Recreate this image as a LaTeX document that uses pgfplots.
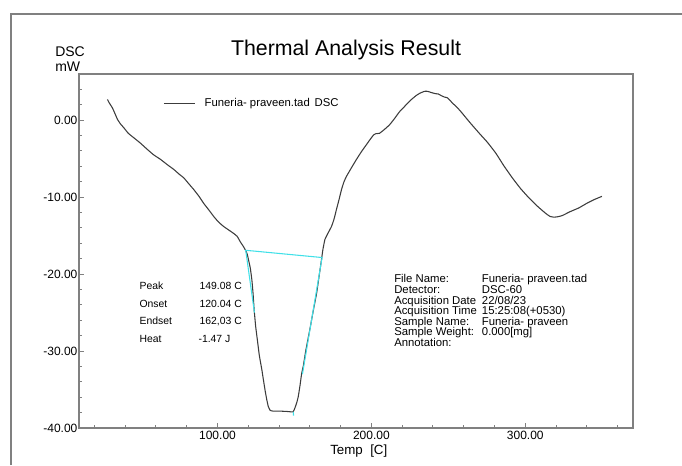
\documentclass[border=0pt]{standalone}
\usepackage{fontspec}
\setmainfont{Liberation Sans}
\usepackage{pgfplots}
\pgfplotsset{compat=1.18}
\definecolor{axgray}{RGB}{128,128,128}
\definecolor{curvegray}{RGB}{60,60,60}
\definecolor{cyanline}{RGB}{64,224,232}
\begin{document}
\begin{tikzpicture}
\useasboundingbox (0,0) rectangle (511.5pt,348.75pt);
\begin{axis}[
  at={(59.25pt,27.75pt)}, anchor=south west,
  scale only axis, width=415.5pt, height=265.5pt,
  xmin=10, xmax=370, ymin=-40, ymax=6,
  xtick={100,200,300},
  minor xtick={20,40,60,80,120,140,160,180,220,240,260,280,320,340,360},
  ytick={-40,-30,-20,-10,0},
  minor ytick={-38,-36,-34,-32,-28,-26,-24,-22,-18,-16,-14,-12,-8,-6,-4,-2,2,4},
  xtick pos=bottom, ytick pos=left,
  tick align=inside,
  major tick length=4pt, minor tick length=2pt,
  axis line style={draw=axgray, line width=1.1pt},
  every tick/.style={axgray, line width=0.8pt},
  /pgf/number format/assume math mode=true,
  xticklabel={\pgfmathprintnumber[fixed,fixed zerofill,precision=2]{\tick}},
  yticklabel={\pgfmathprintnumber[fixed,fixed zerofill,precision=2]{\tick}},
  ticklabel style={font=\fontsize{9}{10}\selectfont, text=black},
  yticklabel style={inner sep=1pt},
  xticklabel style={inner sep=1.8pt},
  legend style={draw=none, fill=none, at={(0.1516,0.918)}, anchor=west,
    inner sep=0pt, font=\fontsize{8.5}{10}\selectfont,
    /tikz/every odd column/.style={column sep=5pt}},
  legend image code/.code={\draw[#1] (0pt,0pt) -- (23.25pt,0pt);},
]
\addplot[curvegray, line width=0.8pt, smooth, tension=0.25] coordinates {
(28.5,2.7) (29.5,2.3) (31.7,1.6) (33.5,0.8) (35.0,0.1) (37.0,-0.5) (39.2,-1.0)
(42.0,-1.7) (45.7,-2.3) (50.0,-3.0) (54.4,-3.8) (58.5,-4.5) (63.0,-5.1)
(67.5,-5.8) (71.6,-6.4) (75.0,-7.0) (78.1,-7.5) (81.5,-8.3) (84.5,-9.0)
(88.0,-9.9) (91.0,-10.8) (94.5,-11.7) (97.5,-12.5) (100.5,-13.2) (103.9,-13.8)
(107.5,-14.3) (110.4,-14.7) (112.8,-15.1) (114.8,-15.8) (116.8,-16.4)
(118.2,-16.9) (119.3,-17.4) (120.1,-18.1) (121.3,-19.2) (122.3,-20.7)
(123.1,-22.5) (123.8,-24.6) (124.8,-26.8) (126.0,-28.7) (127.2,-30.6)
(128.8,-32.4) (129.8,-33.7) (131.0,-35.2) (132.0,-36.3) (133.0,-37.2)
(134.2,-37.7) (136.0,-37.8) (140.0,-37.8) (145.0,-37.85) (149.1,-37.9)
(150.3,-37.4) (151.5,-36.7) (152.5,-35.9) (153.6,-34.5) (154.7,-32.9)
(155.7,-32.0) (157.5,-29.8) (160.0,-27.2) (162.2,-24.8) (164.4,-22.5)
(166.0,-20.3) (167.6,-18.1) (168.5,-16.8) (169.8,-15.5) (171.5,-14.8)
(174.1,-13.8) (175.8,-12.8) (177.3,-11.6) (179.0,-10.3) (180.6,-9.0)
(182.2,-8.0) (183.8,-7.3) (187.0,-6.2) (190.3,-5.1) (193.5,-4.1) (196.7,-3.2)
(199.2,-2.5) (201.5,-1.9) (203.0,-1.75) (205.3,-1.7) (208.5,-1.2) (211.8,-0.6)
(215.0,0.2) (218.3,1.1) (222.6,2.0) (225.5,2.6) (229.1,3.2) (231.5,3.5)
(234.5,3.75) (236.5,3.75) (238.8,3.6) (241.5,3.45) (243.5,3.4) (245.3,3.2)
(247.5,3.0) (249.5,2.9) (252.8,2.2) (255.5,1.7) (258.2,1.1) (264.0,-0.3)
(270.1,-1.7) (275.5,-2.9) (280.9,-4.3) (286.0,-5.9) (291.6,-7.5) (297.0,-8.9)
(302.4,-10.1) (308.0,-11.2) (313.2,-12.1) (316.0,-12.5) (318.6,-12.6)
(321.0,-12.55) (324.0,-12.4) (329.0,-11.9) (334.8,-11.4) (340.0,-10.8)
(345.0,-10.3) (349.8,-9.9)
};
\addlegendentry{\makebox[82.5pt][l]{Funeria- praveen.tad}DSC}
\addplot[cyanline, line width=0.8pt, forget plot] coordinates {(118.0,-16.9) (168.0,-17.85)};
\addplot[cyanline, line width=0.8pt, forget plot] coordinates {(118.4,-17.0) (124.0,-25.0)};
\addplot[cyanline, line width=0.8pt, forget plot] coordinates {(168.0,-17.8) (155.2,-33.0)};
\addplot[cyanline, line width=0.8pt, forget plot] coordinates {(149.3,-37.9) (149.4,-38.4)};
\end{axis}
\begin{scope}[x=0.75pt, y=-0.75pt, yshift=348.75pt]
  \draw[axgray, line width=1.1pt] (11,465) -- (11,14) -- (682,14);
  \node[anchor=base, inner sep=0pt, font=\fontsize{16}{18}\selectfont] at (346,56) {Thermal Analysis Result};
  \node[anchor=base west, inner sep=0pt, font=\fontsize{10.5}{12}\selectfont] at (55,56.7) {DSC};
  \node[anchor=base west, inner sep=0pt, font=\fontsize{10.5}{12}\selectfont] at (55,71.7) {mW};
  \node[anchor=base west, inner sep=0pt, font=\fontsize{10}{12}\selectfont] at (330,454.5) {Temp~~[C]};
  % peak annotations
  \begin{scope}[every node/.style={anchor=base west, inner sep=0pt, font=\fontsize{7.8}{9}\selectfont}]
    \node at (139.3,289.7) {Peak};   \node at (199.3,289.7) {149.08 C};
    \node at (139.3,307.3) {Onset};  \node at (199.3,307.3) {120.04 C};
    \node at (139.3,324.7) {Endset}; \node at (199.3,324.7) {162,03 C};
    \node at (139.3,342.3) {Heat};   \node at (198.3,342.3) {-1.47 J};
  \end{scope}
  \begin{scope}[every node/.style={anchor=base west, inner sep=0pt, font=\fontsize{8.5}{9}\selectfont}]
    \node at (394,282.3) {File Name:};        \node at (481.7,282.3) {Funeria- praveen.tad};
    \node at (394,293.3) {Detector:};         \node at (481.7,293.3) {DSC-60};
    \node at (394,304.3) {Acquisition Date};  \node at (481.7,304.3) {22/08/23};
    \node at (394,314.7) {Acquisition Time};  \node at (481.7,314.7) {15:25:08(+0530)};
    \node at (394,325.3) {Sample Name:};      \node at (481.7,325.3) {Funeria- praveen};
    \node at (394,335.7) {Sample Weight:};    \node at (481.7,335.7) {0.000[mg]};
    \node at (394,346.3) {Annotation:};
  \end{scope}
\end{scope}
\end{tikzpicture}
\end{document}
